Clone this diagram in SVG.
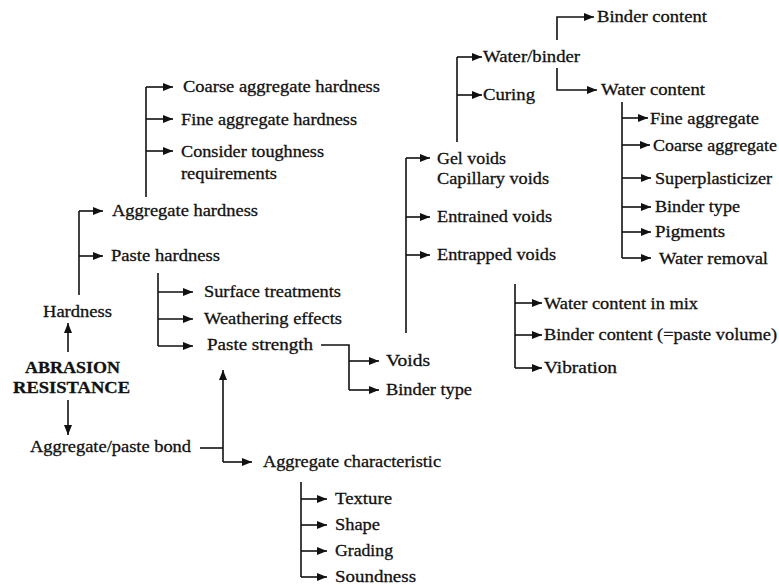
<svg xmlns="http://www.w3.org/2000/svg" width="779" height="585" viewBox="0 0 779 585">
<defs>
<marker id="ah" markerUnits="userSpaceOnUse" markerWidth="11" markerHeight="9" refX="10" refY="4" orient="auto">
<path d="M0,0 L10,4 L0,8 z" fill="#111"/>
</marker>
<style>
.t{font-family:"Liberation Serif","Times New Roman",serif;font-size:17px;fill:#111;stroke:#111;stroke-width:0.3}
.b{font-weight:bold}
.c{fill:none;stroke:#111;stroke-width:1.6}
.a{fill:none;stroke:#111;stroke-width:1.6;marker-end:url(#ah)}
</style>
</defs>
<rect width="779" height="585" fill="#fff"/>
<g id="connectors">
<path class="c" d="M146,197 V87"/>
<path class="a" d="M146,87 H173"/>
<path class="a" d="M146,119 H173"/>
<path class="a" d="M146,151 H173"/>
<path class="c" d="M79,295 V211"/>
<path class="a" d="M79,211 H103"/>
<path class="a" d="M79,256 H103"/>
<path class="a" d="M68,352 V323"/>
<path class="a" d="M68,400 V435"/>
<path class="c" d="M158,273 V346"/>
<path class="a" d="M158,292 H193"/>
<path class="a" d="M158,319 H193"/>
<path class="a" d="M158,346 H193"/>
<path class="c" d="M321,345 H349 V390"/>
<path class="a" d="M349,361 H379"/>
<path class="a" d="M349,390 H379"/>
<path class="c" d="M200,448 H223"/>
<path class="a" d="M223,462 V370"/>
<path class="a" d="M223,462 H252"/>
<path class="c" d="M301,482 V577"/>
<path class="a" d="M301,499 H327"/>
<path class="a" d="M301,525 H327"/>
<path class="a" d="M301,551 H327"/>
<path class="a" d="M301,577 H327"/>
<path class="c" d="M406,333 V158"/>
<path class="a" d="M406,158 H430"/>
<path class="a" d="M406,217 H430"/>
<path class="a" d="M406,255 H430"/>
<path class="c" d="M457,142 V57"/>
<path class="a" d="M457,57 H482"/>
<path class="a" d="M457,95 H482"/>
<path class="a" d="M557,40 V17 H594"/>
<path class="a" d="M557,68 V90 H597"/>
<path class="c" d="M622,102 V258"/>
<path class="a" d="M622,118 H648"/>
<path class="a" d="M622,145 H650"/>
<path class="a" d="M622,178 H651"/>
<path class="a" d="M622,207 H651"/>
<path class="a" d="M622,232 H651"/>
<path class="a" d="M622,258 H651"/>
<path class="c" d="M515,284 V368"/>
<path class="a" d="M515,303 H542"/>
<path class="a" d="M515,335 H542"/>
<path class="a" d="M515,368 H542"/>
</g>
<g id="n-root"><text class="t b" x="25" y="373" textLength="95" lengthAdjust="spacingAndGlyphs">ABRASION</text><text class="t b" x="13" y="393" textLength="117" lengthAdjust="spacingAndGlyphs">RESISTANCE</text></g>
<g id="n-hardness"><text class="t" x="43" y="317" textLength="69" lengthAdjust="spacingAndGlyphs">Hardness</text></g>
<g id="n-bond"><text class="t" x="30" y="452" textLength="161" lengthAdjust="spacingAndGlyphs">Aggregate/paste bond</text></g>
<g id="n-agg-hard"><text class="t" x="112" y="216" textLength="146" lengthAdjust="spacingAndGlyphs">Aggregate hardness</text></g>
<g id="n-paste-hard"><text class="t" x="111" y="261" textLength="109" lengthAdjust="spacingAndGlyphs">Paste hardness</text></g>
<g id="n-coarse-hard"><text class="t" x="183" y="92" textLength="197" lengthAdjust="spacingAndGlyphs">Coarse aggregate hardness</text></g>
<g id="n-fine-hard"><text class="t" x="181" y="124.5" textLength="176" lengthAdjust="spacingAndGlyphs">Fine aggregate hardness</text></g>
<g id="n-tough"><text class="t" x="181" y="156.5" textLength="143" lengthAdjust="spacingAndGlyphs">Consider toughness</text><text class="t" x="181" y="178.5" textLength="96" lengthAdjust="spacingAndGlyphs">requirements</text></g>
<g id="n-surface"><text class="t" x="204" y="297" textLength="137" lengthAdjust="spacingAndGlyphs">Surface treatments</text></g>
<g id="n-weather"><text class="t" x="204" y="324" textLength="138" lengthAdjust="spacingAndGlyphs">Weathering effects</text></g>
<g id="n-paste-str"><text class="t" x="207" y="350" textLength="106" lengthAdjust="spacingAndGlyphs">Paste strength</text></g>
<g id="n-voids"><text class="t" x="386" y="366" textLength="44" lengthAdjust="spacingAndGlyphs">Voids</text></g>
<g id="n-binder-type"><text class="t" x="386" y="395" textLength="86" lengthAdjust="spacingAndGlyphs">Binder type</text></g>
<g id="n-agg-char"><text class="t" x="263" y="467" textLength="178" lengthAdjust="spacingAndGlyphs">Aggregate characteristic</text></g>
<g id="n-texture"><text class="t" x="335" y="504" textLength="57" lengthAdjust="spacingAndGlyphs">Texture</text></g>
<g id="n-shape"><text class="t" x="335" y="530" textLength="45" lengthAdjust="spacingAndGlyphs">Shape</text></g>
<g id="n-grading"><text class="t" x="335" y="556" textLength="58" lengthAdjust="spacingAndGlyphs">Grading</text></g>
<g id="n-soundness"><text class="t" x="335" y="582" textLength="81" lengthAdjust="spacingAndGlyphs">Soundness</text></g>
<g id="n-gel"><text class="t" x="437" y="163.5" textLength="69" lengthAdjust="spacingAndGlyphs">Gel voids</text><text class="t" x="437" y="183.5" textLength="112" lengthAdjust="spacingAndGlyphs">Capillary voids</text></g>
<g id="n-entrained"><text class="t" x="437" y="222" textLength="115" lengthAdjust="spacingAndGlyphs">Entrained voids</text></g>
<g id="n-entrapped"><text class="t" x="437" y="260" textLength="119" lengthAdjust="spacingAndGlyphs">Entrapped voids</text></g>
<g id="n-wb"><text class="t" x="483" y="62" textLength="97" lengthAdjust="spacingAndGlyphs">Water/binder</text></g>
<g id="n-curing"><text class="t" x="483" y="100" textLength="52" lengthAdjust="spacingAndGlyphs">Curing</text></g>
<g id="n-binder-content"><text class="t" x="597" y="22" textLength="110" lengthAdjust="spacingAndGlyphs">Binder content</text></g>
<g id="n-water-content"><text class="t" x="601" y="95" textLength="104" lengthAdjust="spacingAndGlyphs">Water content</text></g>
<g id="n-fine"><text class="t" x="650" y="123.5" textLength="109" lengthAdjust="spacingAndGlyphs">Fine aggregate</text></g>
<g id="n-coarse"><text class="t" x="653" y="150.5" textLength="124" lengthAdjust="spacingAndGlyphs">Coarse aggregate</text></g>
<g id="n-super"><text class="t" x="655" y="183.5" textLength="117" lengthAdjust="spacingAndGlyphs">Superplasticizer</text></g>
<g id="n-binder-type2"><text class="t" x="655" y="212" textLength="85" lengthAdjust="spacingAndGlyphs">Binder type</text></g>
<g id="n-pigments"><text class="t" x="655" y="237" textLength="70" lengthAdjust="spacingAndGlyphs">Pigments</text></g>
<g id="n-removal"><text class="t" x="659" y="264" textLength="109" lengthAdjust="spacingAndGlyphs">Water removal</text></g>
<g id="n-wc-mix"><text class="t" x="544" y="308.5" textLength="154" lengthAdjust="spacingAndGlyphs">Water content in mix</text></g>
<g id="n-bc-paste"><text class="t" x="544" y="340" textLength="233" lengthAdjust="spacingAndGlyphs">Binder content (=paste volume)</text></g>
<g id="n-vibration"><text class="t" x="544" y="373" textLength="73" lengthAdjust="spacingAndGlyphs">Vibration</text></g>
</svg>
